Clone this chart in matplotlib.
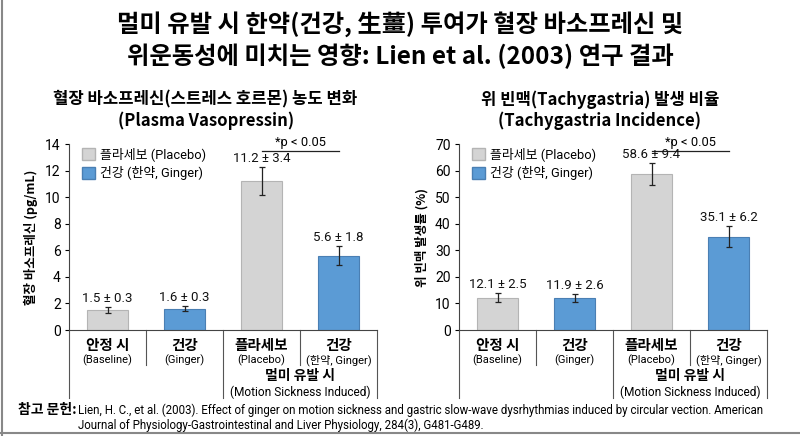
import matplotlib
matplotlib.use('Agg')
import matplotlib.pyplot as plt
from matplotlib.patches import Patch
from matplotlib.lines import Line2D

plt.rcParams['font.family'] = ['Roboto', 'Noto Sans CJK KR', 'DejaVu Sans']
KR = ['Noto Sans CJK KR', 'DejaVu Sans']

# 데이터
cat_kr = ['안정 시', '건강', '플라세보', '건강']
cat_en = ['(Baseline)', '(Ginger)', '(Placebo)', '(한약, Ginger)']
group_kr = '멀미 유발 시'
group_en = '(Motion Sickness Induced)'

vaso_mean = [1.5, 1.6, 11.2, 5.6]
vaso_sd = [0.3, 0.3, 3.4, 1.8]          # 라벨에 적힌 값
vaso_err = [0.2, 0.2, 1.05, 0.7]        # 그림에 그려진 오차 막대

tachy_mean = [12.1, 11.9, 58.6, 35.1]
tachy_sd = [2.5, 2.6, 9.4, 6.2]
tachy_err = [1.7, 1.5, 4.1, 3.9]

bar_kind = ['placebo', 'ginger', 'placebo', 'ginger']
gray = '#d4d4d4'
gray_edge = '#b4b4b4'
blue = '#5b9bd5'
blue_edge = '#4a7fb3'

fig = plt.figure(figsize=(8, 4.36), dpi=100)

fig.text(0.5, 0.944, '멀미 유발 시 한약(건강, 生薑) 투여가 혈장 바소프레신 및',
         ha='center', va='center', fontsize=17.5, fontweight='bold', family=KR)
fig.text(0.5, 0.871, '위운동성에 미치는 영향: Lien et al. (2003) 연구 결과',
         ha='center', va='center', fontsize=17.5, fontweight='bold', family=KR)


def draw_panel(rect, means, sds, errs, ymax, ystep, title1, title2, ylabel, title_x):
    ax = fig.add_axes(rect)
    x = range(len(means))
    colors = [gray if k == 'placebo' else blue for k in bar_kind]
    edges = [gray_edge if k == 'placebo' else blue_edge for k in bar_kind]
    ax.bar(x, means, width=0.52, color=colors, edgecolor=edges, linewidth=0.8, zorder=2)
    ax.errorbar(x, means, yerr=errs, fmt='none', ecolor='#222222', elinewidth=0.9,
                capsize=2.5, capthick=0.9, zorder=3)
    for i in x:
        ax.annotate('%.1f ± %.1f' % (means[i], sds[i]), (i, means[i] + errs[i]),
                    xytext=(0, 1.5), textcoords='offset points', ha='center', va='bottom',
                    fontsize=9.5, color='#111111', zorder=4)
    ax.set_xlim(-0.5, 3.5)
    ax.set_ylim(0, ymax)
    ax.set_yticks(range(0, ymax + 1, ystep))
    ax.set_xticks([])
    ax.tick_params(axis='y', labelsize=10, length=3, width=0.8, pad=3)
    for s in ['top', 'right']:
        ax.spines[s].set_visible(False)
    ax.spines['left'].set_color('#444444')
    ax.spines['bottom'].set_color('#444444')
    ax.set_ylabel(ylabel, fontsize=9, fontweight='bold', family=KR, labelpad=5)

    # 범례
    handles = [Patch(facecolor=gray, edgecolor=gray_edge, label='플라세보 (Placebo)'),
               Patch(facecolor=blue, edgecolor=blue_edge, label='건강 (한약, Ginger)')]
    ax.legend(handles=handles, loc='upper left', bbox_to_anchor=(0.025, 1.01), frameon=False,
              fontsize=9.3, handlelength=1.0, handleheight=1.0, handletextpad=0.4,
              labelspacing=0.4, borderaxespad=0)

    # 유의성 표시
    tr = ax.get_xaxis_transform()
    ax.add_line(Line2D([2.0, 3.0], [0.96, 0.96], transform=tr, color='#222222',
                       linewidth=0.9, clip_on=False))
    ax.text(2.5, 0.975, '*p < 0.05', transform=tr, ha='center', va='bottom', fontsize=9.3)

    # 아래쪽 범주 구분선
    for xv, yb in [(-0.5, -0.366), (0.5, -0.188), (1.5, -0.366), (2.5, -0.188), (3.5, -0.366)]:
        ax.add_line(Line2D([xv, xv], [0, yb], transform=tr, color='#555555',
                           linewidth=0.8, clip_on=False))
    for i in x:
        ax.text(i, -0.035, cat_kr[i], transform=tr, ha='center', va='top', fontsize=10.5,
                fontweight='bold', family=KR)
        ax.text(i, -0.13, cat_en[i], transform=tr, ha='center', va='top', fontsize=8)
    ax.text(2.5, -0.21, group_kr, transform=tr, ha='center', va='top', fontsize=10,
            fontweight='bold', family=KR)
    ax.text(2.5, -0.3, group_en, transform=tr, ha='center', va='top', fontsize=8.6)

    fig.text(title_x, 0.771, title1, ha='center', va='center', fontsize=12,
             fontweight='bold', family=KR)
    fig.text(title_x, 0.722, title2, ha='center', va='center', fontsize=12,
             fontweight='bold', family=KR)
    return ax


draw_panel([0.08625, 0.2431, 0.385, 0.4266], vaso_mean, vaso_sd, vaso_err, 14, 2,
           '혈장 바소프레신(스트레스 호르몬) 농도 변화', '(Plasma Vasopressin)',
           '혈장 바소프레신 (pg/mL)', 0.257)
draw_panel([0.57375, 0.2431, 0.385, 0.4266], tachy_mean, tachy_sd, tachy_err, 70, 10,
           '위 빈맥(Tachygastria) 발생 비율', '(Tachygastria Incidence)',
           '위 빈맥 발생률 (%)', 0.75)

# 참고 문헌
fig.text(0.022, 0.06, '참고 문헌:', ha='left', va='center', fontsize=10,
         fontweight='bold', family=KR)
ref1 = fig.text(0.097, 0.06, 'Lien, H. C., et al. (2003). Effect of ginger on motion sickness and '
                'gastric slow-wave dysrhythmias induced by circular vection. American',
                ha='left', va='center', fontsize=9.5, family=['Roboto'])
ref2 = fig.text(0.097, 0.025, 'Journal of Physiology-Gastrointestinal and Liver Physiology, '
                '284(3), G481-G489.', ha='left', va='center', fontsize=9.5, family=['Roboto'])
# 첫 줄이 그림 폭 안에 들어가도록 글자 크기 맞춤
renderer = fig.canvas.get_renderer()
w = ref1.get_window_extent(renderer).width
if w > 690:
    size = 9.5 * 690 / w
    ref1.set_fontsize(size)
    ref2.set_fontsize(size)

# 테두리
fig.add_artist(Line2D([0.003, 0.003], [0, 1], transform=fig.transFigure, color='#888888', linewidth=1.5))
fig.add_artist(Line2D([0, 1], [0.006, 0.006], transform=fig.transFigure, color='#888888', linewidth=1.5))

fig.savefig('out.png', dpi=100)
